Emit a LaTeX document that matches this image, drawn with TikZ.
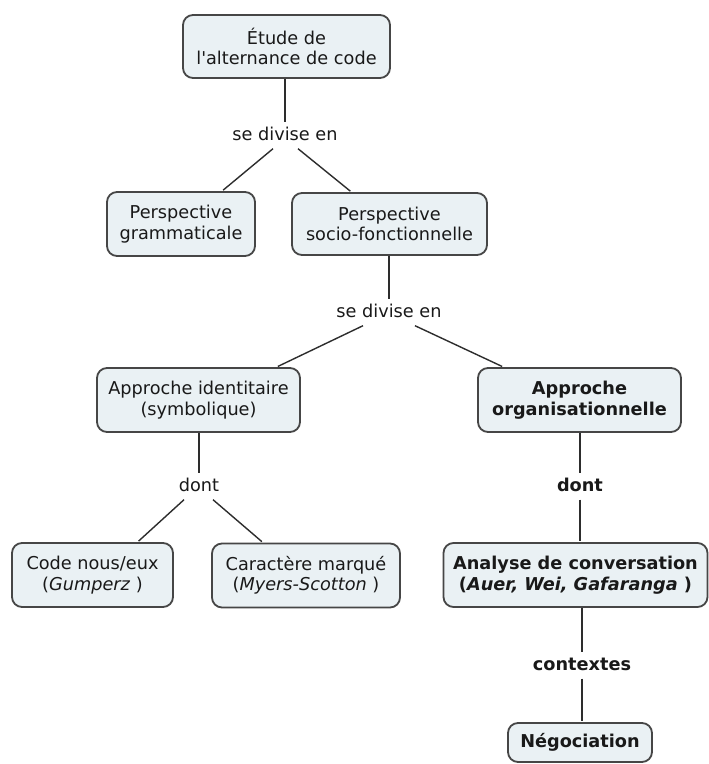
\documentclass[tikz,border=0pt]{standalone}
\usepackage{fontspec}
\setmainfont{DejaVu Sans}[Ligatures=TeXOff]
\definecolor{boxfill}{RGB}{234,241,244}
\definecolor{boxline}{RGB}{70,70,70}
\definecolor{linecol}{RGB}{45,45,45}
\definecolor{txt}{RGB}{25,25,25}
\begin{document}
\begin{tikzpicture}[x=1pt,y=-1pt,
  every node/.style={font=\fontsize{17.7}{20.5}\selectfont, text=txt},
  box/.style={draw=boxline, line width=1.8pt, fill=boxfill, rounded corners=10pt, align=center, inner sep=0pt},
  lab/.style={inner sep=0pt, text height=13pt, text depth=4pt, minimum height=25pt},
  conn/.style={draw=linecol, line width=1.4pt, shorten >=1.5pt}]
\useasboundingbox (0,0) rectangle (709,764);
\fill[white] (0,0) rectangle (709,764);
% boxes
\node[box, minimum width=207pt, minimum height=63pt] (etude) at (286.5,46.5) {Étude de\\l'alternance de code};
\node[box, minimum width=148pt, minimum height=64pt] (gram) at (181,224) {Perspective\\grammaticale};
\node[box, minimum width=195pt, minimum height=62pt] (socio) at (389.5,224) {Perspective\\socio-fonctionnelle};
\node[box, minimum width=203pt, minimum height=64pt] (ident) at (198.5,400) {Approche identitaire\\(symbolique)};
\node[box, minimum width=203pt, minimum height=64pt, font=\fontsize{17.7}{20.5}\selectfont\bfseries] (org) at (579.5,400) {Approche\\organisationnelle};
\node[box, minimum width=161pt, minimum height=64pt] (code) at (92.5,575) {Code nous/eux\\(\textit{Gumperz} )};
\node[box, minimum width=188pt, minimum height=64pt] (carac) at (306,575.5) {Caractère marqué\\(\textit{Myers-Scotton} )};
\node[box, minimum width=264pt, minimum height=64pt, font=\fontsize{17.7}{20.5}\selectfont\bfseries] (analyse) at (575.5,575) {Analyse de conversation\\(\textit{Auer, Wei, Gafaranga} )};
\node[box, minimum width=144pt, minimum height=39pt, font=\fontsize{17.7}{20.5}\selectfont\bfseries] (nego) at (580,742.5) {Négociation};
% labels
\node[lab] (l1) at (285,136) {se divise en};
\node[lab] (l2) at (389,313) {se divise en};
\node[lab] (dont1) at (199,487) {dont};
\node[lab, font=\fontsize{17.7}{20.5}\selectfont\bfseries] (dont2) at (580,487) {dont};
\node[lab, font=\fontsize{17.7}{20.5}\selectfont\bfseries] (ctx) at (582,666) {contextes};
% connectors
\draw[conn] (etude.south -| l1) -- (l1.north);
\draw[conn] ([xshift=-12pt]l1.south) -- ([xshift=41pt]gram.north);
\draw[conn] ([xshift=13pt]l1.south) -- ([xshift=-38pt]socio.north);
\draw[conn] (socio.south -| l2) -- (l2.north);
\draw[conn] ([xshift=-26pt]l2.south) -- ([xshift=78pt]ident.north);
\draw[conn] ([xshift=26pt]l2.south) -- ([xshift=-76pt]org.north);
\draw[conn] (ident.south -| dont1) -- (dont1.north);
\draw[conn] ([xshift=-15pt]dont1.south) -- ([xshift=45pt]code.north);
\draw[conn] ([xshift=14pt]dont1.south) -- ([xshift=-43pt]carac.north);
\draw[conn] (org.south -| dont2) -- (dont2.north);
\draw[conn] (dont2.south) -- (analyse.north -| dont2);
\draw[conn] (analyse.south -| ctx) -- (ctx.north);
\draw[conn] (ctx.south) -- (nego.north -| ctx);
\end{tikzpicture}
\end{document}
